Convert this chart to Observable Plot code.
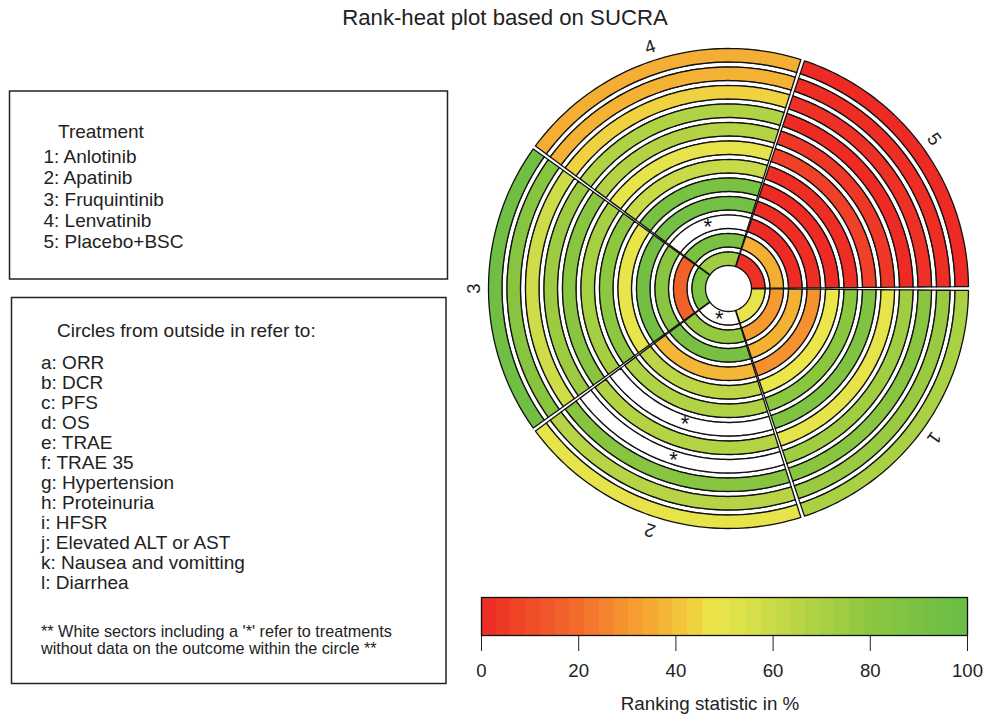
<!DOCTYPE html>
<html>
<head>
<meta charset="utf-8">
<script src="https://cdn.jsdelivr.net/npm/d3@7"></script>
<script src="https://cdn.jsdelivr.net/npm/@observablehq/plot@0.6"></script>
<style>
  body { margin: 0; background: #fff; }
  #root { position: relative; width: 984px; height: 715px; overflow: hidden; font-family: "Liberation Sans", Arial, Helvetica, sans-serif; color: #222; }
  #root > svg, #root > div { position: absolute; }
</style>
</head>
<body>
<div id="root"></div>
<script>
// ---------------- data ----------------
const treatmentIds = [1, 2, 3, 4, 5];
const treatmentNames = ["Anlotinib", "Apatinib", "Fruquintinib", "Lenvatinib", "Placebo+BSC"];
const ringLetters = ["a", "b", "c", "d", "e", "f", "g", "h", "i", "j", "k", "l"];
const outcomeNames = ["ORR", "DCR", "PFS", "OS", "TRAE", "TRAE 35", "Hypertension", "Proteinuria",
  "HFSR", "Elevated ALT or AST", "Nausea and vomitting", "Diarrhea"];

// SUCRA (%) per outcome ring a..l (outer to inner); null = no data (white sector with '*')
const sucraAnlotinib    = [70, 76, 82, 73, 50, 87, 81, 48, 29, 37, 31, 50];
const sucraApatinib     = [50, 66, 83, null, 67, null, 68, 64, 38, 92, 78, null];
const sucraFruquintinib = [96, 83, 58, 75, 82, 71, 80, 49, 94, 82, 17, 88];
const sucraLenvatinib   = [36, 37, 44, 68, 67, 50, 60, 91, 93, null, 90, 74];
const sucraPlacebo      = [0, 1, 2, 0, 4, 7, 1, 0, 1, 0, 36, 2];

// colour ramp of the ranking statistic
const colorStops = [0, 10, 20, 30, 40, 48, 55, 60, 70, 80, 90, 100];
const colorRange = ["#EE2A25", "#F04B29", "#F26C2B", "#F5962F", "#F4BE38", "#EBE64A",
  "#D8E049", "#C8DA47", "#AAD044", "#8DC63F", "#7AC143", "#69BD45"];
const legendTicks = [0, 20, 40, 60, 80, 100];

const title = "Rank-heat plot based on SUCRA";
const axisTitle = "Ranking statistic in %";
const noteLines = ["** White sectors including a '*' refer to treatments",
  "without data on the outcome within the circle **"];

// ---------------- layout ----------------
const FONT = '"Liberation Sans", Arial, Helvetica, sans-serif';
const root = document.getElementById("root");

// annotation layer (title + legend boxes)
const ann = d3.select(root).append("svg")
  .attr("width", 984).attr("height", 715)
  .style("left", "0px").style("top", "0px")
  .style("font-family", FONT);

ann.append("text").attr("x", 505).attr("y", 25).attr("text-anchor", "middle")
  .attr("font-size", 22.2).attr("fill", "#222").text(title);

// Treatment box
ann.append("rect").attr("x", 9.5).attr("y", 91).attr("width", 438).attr("height", 188)
  .attr("fill", "none").attr("stroke", "#222").attr("stroke-width", 1.5);
ann.append("text").attr("x", 58).attr("y", 138).attr("font-size", 19).attr("fill", "#222").text("Treatment");
treatmentIds.forEach((t, i) => {
  ann.append("text").attr("x", 43.5).attr("y", 163.2 + i * 21.25).attr("font-size", 19)
    .attr("fill", "#222").text(`${t}: ${treatmentNames[i]}`);
});

// Circles box
ann.append("rect").attr("x", 11.5).attr("y", 297.5).attr("width", 434.5).attr("height", 386)
  .attr("fill", "none").attr("stroke", "#222").attr("stroke-width", 1.5);
ann.append("text").attr("x", 57).attr("y", 336.5).attr("font-size", 19).attr("fill", "#222")
  .text("Circles from outside in refer to:");
ringLetters.forEach((L, i) => {
  ann.append("text").attr("x", 41).attr("y", 369 + i * 20).attr("font-size", 19)
    .attr("fill", "#222").text(`${L}: ${outcomeNames[i]}`);
});
noteLines.forEach((s, i) => {
  ann.append("text").attr("x", 41).attr("y", 636.5 + i * 17.7).attr("font-size", 16.2)
    .attr("fill", "#222").text(s);
});

// ---------------- rank-heat rings ----------------
const sucra = [sucraAnlotinib, sucraApatinib, sucraFruquintinib, sucraLenvatinib, sucraPlacebo];
const R0 = 240, STEP = 18.5, BAND = 13.5, GAPDEG = 0.9;
const rad = d => d * Math.PI / 180;

function sectorAngles(t) {
  const s = 5 - t; // treatment 5 starts at east, sectors run counter-clockwise
  return [rad(72 * s + GAPDEG / 2), rad(72 * (s + 1) - GAPDEG / 2), rad(72 * s + 36)];
}
function arcPolygon(id, a0, a1, ro, ri, extra) {
  const pts = [], n = 60;
  for (let k = 0; k <= n; k++) { const a = a0 + (a1 - a0) * k / n; pts.push({id, x: ro * Math.cos(a), y: ro * Math.sin(a), ...extra}); }
  for (let k = n; k >= 0; k--) { const a = a0 + (a1 - a0) * k / n; pts.push({id, x: ri * Math.cos(a), y: ri * Math.sin(a), ...extra}); }
  return pts;
}

const gapPts = [], cellPts = [], emptyPts = [], stars = [], labels = [];
treatmentIds.forEach((t, ti) => {
  const [a0, a1, am] = sectorAngles(t);
  ringLetters.forEach((L, ri) => {
    const ro = R0 - STEP * ri, rin = ro - BAND;
    const v = sucra[ti][ri];
    if (ri < ringLetters.length - 1) gapPts.push(...arcPolygon(`g${t}${L}`, a0, a1, rin, rin - (STEP - BAND), {}));
    if (v == null) {
      emptyPts.push(...arcPolygon(`e${t}${L}`, a0, a1, ro, rin, {}));
      const rm = (ro + rin) / 2;
      stars.push({x: rm * Math.cos(am), y: rm * Math.sin(am)});
    } else {
      cellPts.push(...arcPolygon(`c${t}${L}`, a0, a1, ro, rin, {value: v}));
    }
  });
  const rl = 254;
  labels.push({x: rl * Math.cos(am), y: rl * Math.sin(am), text: String(t), rotate: 90 - am * 180 / Math.PI});
});

const colorOpts = {type: "linear", domain: colorStops, range: colorRange};

const ring = Plot.plot({
  width: 560, height: 560, margin: 0,
  x: {domain: [-280, 280], axis: null},
  y: {domain: [-280, 280], axis: null},
  color: colorOpts,
  style: {background: "transparent", fontFamily: FONT, overflow: "visible"},
  marks: [
    Plot.line(gapPts, {x: "x", y: "y", z: "id", fill: "white", stroke: "#111", strokeWidth: 1.2, curve: "linear-closed"}),
    Plot.line(cellPts, {x: "x", y: "y", z: "id", fill: "value", stroke: "#111", strokeWidth: 1.3, curve: "linear-closed"}),
    Plot.line(emptyPts, {x: "x", y: "y", z: "id", fill: "white", stroke: "#111", strokeWidth: 1.3, curve: "linear-closed"}),
    Plot.text(stars, {x: "x", y: "y", text: () => "*", fontSize: 22, dy: 2, fill: "#111"}),
    Plot.text(labels, {x: "x", y: "y", text: "text", rotate: "rotate", fontSize: 18.5, fill: "#222"})
  ]
});
ring.style.left = "448px"; ring.style.top = "8px";
root.appendChild(ring);

// ---------------- colour bar ----------------
const nBands = 33;
const bands = d3.range(nBands).map(i => ({x1: i * 100 / nBands, x2: (i + 1) * 100 / nBands, v: (i + 0.5) * 100 / nBands}));
const bar = Plot.plot({
  width: 524, height: 125,
  marginLeft: 21, marginRight: 17, marginTop: 7, marginBottom: 80,
  x: {domain: [0, 100], ticks: legendTicks, tickSize: 16, tickPadding: 12, tickFormat: d => String(d), label: null},
  y: {domain: [0, 1], axis: null},
  color: colorOpts,
  style: {background: "transparent", fontFamily: FONT, fontSize: "18.6px", color: "#222", overflow: "visible"},
  marks: [
    Plot.rect(bands, {x1: "x1", x2: "x2", y1: () => 0, y2: () => 1, fill: "v", shapeRendering: "crispEdges"}),
    Plot.frame({stroke: "#111", strokeWidth: 1.3})
  ]
});
bar.style.left = "460px"; bar.style.top = "590px";
bar.querySelectorAll("line").forEach(l => { l.setAttribute("stroke-width", 1.5); });
root.appendChild(bar);

ann.append("text").attr("x", 710).attr("y", 710).attr("text-anchor", "middle")
  .attr("font-size", 18.8).attr("fill", "#222").text(axisTitle);
</script>
</body>
</html>
